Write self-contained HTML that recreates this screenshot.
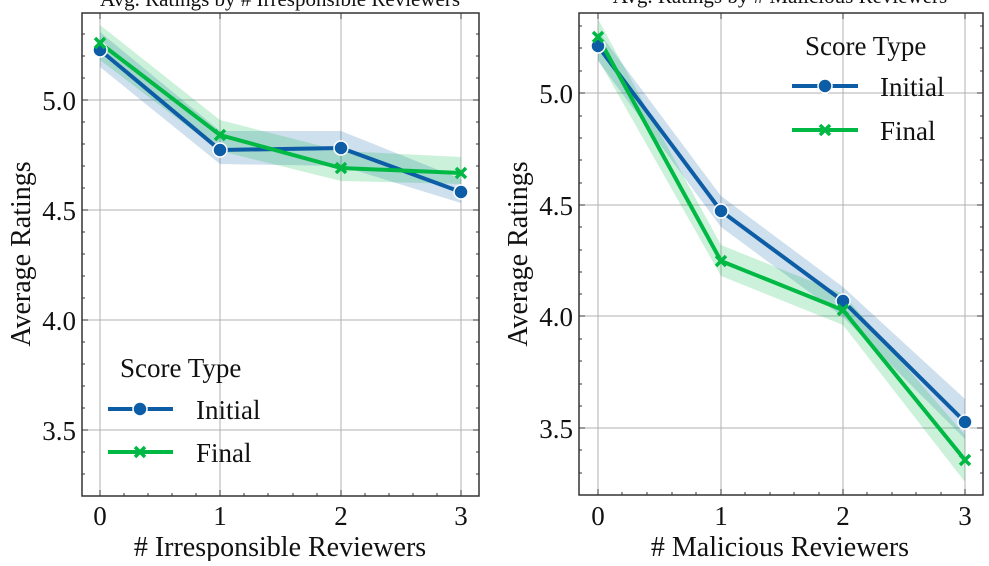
<!DOCTYPE html>
<html><head><meta charset="utf-8"><style>
html,body{margin:0;padding:0;background:#fff}
</style></head><body>
<svg width="989" height="561" viewBox="0 0 989 561" xmlns="http://www.w3.org/2000/svg" font-family="'Liberation Serif', serif">
<!-- LEFT -->
<g font-family="'Liberation Serif', serif" fill="#111">
<text x="280" y="6" font-size="21" text-anchor="middle">Avg. Ratings by # Irresponsible Reviewers</text>
</g>
<g stroke="#b0b0b0" stroke-width="1">
<line x1="100" y1="13" x2="100" y2="496"/><line x1="220" y1="13" x2="220" y2="496"/><line x1="341" y1="13" x2="341" y2="496"/><line x1="461" y1="13" x2="461" y2="496"/>
<line x1="82" y1="100" x2="479" y2="100"/><line x1="82" y1="210" x2="479" y2="210"/><line x1="82" y1="320" x2="479" y2="320"/><line x1="82" y1="430" x2="479" y2="430"/>
</g>
<polygon points="100,32 220,131 341,131 461,179 461,203 341,166 220,164 100,67" fill="#0c5da5" fill-opacity="0.2"/>
<polygon points="100,25 220,120 341,151 461,157 461,184 341,181 220,151 100,60" fill="#00b945" fill-opacity="0.2"/>
<polyline points="100,50 220,150 341,148 461,192" fill="none" stroke="#0c5da5" stroke-width="4"/>
<polyline points="100,43 220,135 341,168 461,173" fill="none" stroke="#00b945" stroke-width="4"/>
<g fill="#0c5da5" stroke="#fff" stroke-width="1.5"><circle cx="100" cy="50" r="7"/><circle cx="220" cy="150" r="7"/><circle cx="341" cy="148" r="7"/><circle cx="461" cy="192" r="7"/></g>
<g stroke="#00b945" stroke-width="3.5"><path d="M95,38l10,10M105,38l-10,10"/><path d="M215,130l10,10M225,130l-10,10"/><path d="M336,163l10,10M346,163l-10,10"/><path d="M456,168l10,10M466,168l-10,10"/></g>
<rect x="82" y="13" width="397" height="483" fill="none" stroke="#333" stroke-width="1.5"/>
<g stroke="#333" stroke-width="1">
<path d="M100,496v-6M220,496v-6M341,496v-6M461,496v-6M100,13v6M220,13v6M341,13v6M461,13v6"/>
<path d="M82,100h6M82,210h6M82,320h6M82,430h6M479,100h-6M479,210h-6M479,320h-6M479,430h-6"/>
<path d="M124,496v-3M148,496v-3M172,496v-3M196,496v-3M244,496v-3M268,496v-3M293,496v-3M317,496v-3M365,496v-3M389,496v-3M413,496v-3M437,496v-3"/>
<path d="M82,34h3M82,56h3M82,78h3M82,122h3M82,144h3M82,166h3M82,188h3M82,232h3M82,254h3M82,276h3M82,298h3M82,342h3M82,364h3M82,386h3M82,408h3M82,452h3M82,474h3"/>
<path d="M479,34h-3M479,56h-3M479,78h-3M479,122h-3M479,144h-3M479,166h-3M479,188h-3M479,232h-3M479,254h-3M479,276h-3M479,298h-3M479,342h-3M479,364h-3M479,386h-3M479,408h-3M479,452h-3M479,474h-3"/>
</g>
<g font-family="'Liberation Serif', serif" fill="#111">
<g font-size="27" text-anchor="end"><text x="76" y="110">5.0</text><text x="76" y="220">4.5</text><text x="76" y="330">4.0</text><text x="76" y="440">3.5</text></g>
<g font-size="27" text-anchor="middle"><text x="100" y="525">0</text><text x="220" y="525">1</text><text x="341" y="525">2</text><text x="461" y="525">3</text></g>
<text x="280" y="556" font-size="28" text-anchor="middle"># Irresponsible Reviewers</text>
<text transform="translate(30,254) rotate(-90)" font-size="28" text-anchor="middle">Average Ratings</text>
<text x="120" y="377" font-size="27">Score Type</text>
<text x="196" y="419" font-size="27">Initial</text>
<text x="196" y="462" font-size="27">Final</text>
</g>
<line x1="108" y1="409" x2="173" y2="409" stroke="#0c5da5" stroke-width="4"/><circle cx="140" cy="409" r="7" fill="#0c5da5" stroke="#fff" stroke-width="1.5"/>
<line x1="108" y1="452" x2="173" y2="452" stroke="#00b945" stroke-width="4"/><path d="M135,447l10,10M145,447l-10,10" stroke="#00b945" stroke-width="3.5"/>

<!-- RIGHT -->
<g stroke="#b0b0b0" stroke-width="1">
<line x1="598" y1="13" x2="598" y2="495"/><line x1="721" y1="13" x2="721" y2="495"/><line x1="843" y1="13" x2="843" y2="495"/><line x1="965" y1="13" x2="965" y2="495"/>
<line x1="579" y1="93" x2="983" y2="93"/><line x1="579" y1="205" x2="983" y2="205"/><line x1="579" y1="316" x2="983" y2="316"/><line x1="579" y1="428" x2="983" y2="428"/>
</g>
<polygon points="598,31 721,196 843,287 965,399 965,439 843,317 721,227 598,61" fill="#0c5da5" fill-opacity="0.2"/>
<polygon points="598,19 721,245 843,294 965,435 965,482 843,325 721,276 598,59" fill="#00b945" fill-opacity="0.2"/>
<polyline points="598,46 721,211 843,301 965,422" fill="none" stroke="#0c5da5" stroke-width="4"/>
<polyline points="598,37 721,261 843,310 965,460" fill="none" stroke="#00b945" stroke-width="4"/>
<g fill="#0c5da5" stroke="#fff" stroke-width="1.5"><circle cx="598" cy="46" r="7"/><circle cx="721" cy="211" r="7"/><circle cx="843" cy="301" r="7"/><circle cx="965" cy="422" r="7"/></g>
<g stroke="#00b945" stroke-width="3.5"><path d="M593,32l10,10M603,32l-10,10"/><path d="M716,256l10,10M726,256l-10,10"/><path d="M838,305l10,10M848,305l-10,10"/><path d="M960,455l10,10M970,455l-10,10"/></g>
<rect x="579" y="13" width="404" height="482" fill="none" stroke="#333" stroke-width="1.5"/>
<g stroke="#333" stroke-width="1">
<path d="M598,495v-6M721,495v-6M843,495v-6M965,495v-6M598,13v6M721,13v6M843,13v6M965,13v6"/>
<path d="M579,93h6M579,205h6M579,316h6M579,428h6M983,93h-6M983,205h-6M983,316h-6M983,428h-6"/>
<path d="M622,495v-3M647,495v-3M672,495v-3M696,495v-3M745,495v-3M770,495v-3M794,495v-3M819,495v-3M867,495v-3M892,495v-3M916,495v-3M941,495v-3"/>
<path d="M579,26h3M579,48h3M579,71h3M579,116h3M579,138h3M579,160h3M579,183h3M579,227h3M579,250h3M579,272h3M579,294h3M579,339h3M579,361h3M579,384h3M579,406h3M579,450h3M579,473h3"/>
<path d="M983,26h-3M983,48h-3M983,71h-3M983,116h-3M983,138h-3M983,160h-3M983,183h-3M983,227h-3M983,250h-3M983,272h-3M983,294h-3M983,339h-3M983,361h-3M983,384h-3M983,406h-3M983,450h-3M983,473h-3"/>
</g>
<g font-family="'Liberation Serif', serif" fill="#111">
<text x="780" y="3" font-size="21" text-anchor="middle">Avg. Ratings by # Malicious Reviewers</text>
<g font-size="27" text-anchor="end"><text x="573" y="103">5.0</text><text x="573" y="215">4.5</text><text x="573" y="326">4.0</text><text x="573" y="438">3.5</text></g>
<g font-size="27" text-anchor="middle"><text x="598" y="525">0</text><text x="721" y="525">1</text><text x="843" y="525">2</text><text x="965" y="525">3</text></g>
<text x="780" y="556" font-size="28" text-anchor="middle"># Malicious Reviewers</text>
<text transform="translate(527,254) rotate(-90)" font-size="28" text-anchor="middle">Average Ratings</text>
<text x="805" y="55" font-size="27">Score Type</text>
<text x="880" y="96" font-size="27">Initial</text>
<text x="880" y="140" font-size="27">Final</text>
</g>
<line x1="792" y1="86" x2="858" y2="86" stroke="#0c5da5" stroke-width="4"/><circle cx="825" cy="86" r="7" fill="#0c5da5" stroke="#fff" stroke-width="1.5"/>
<line x1="792" y1="130" x2="858" y2="130" stroke="#00b945" stroke-width="4"/><path d="M820,125l10,10M830,125l-10,10" stroke="#00b945" stroke-width="3.5"/>
</svg>
</body></html>
